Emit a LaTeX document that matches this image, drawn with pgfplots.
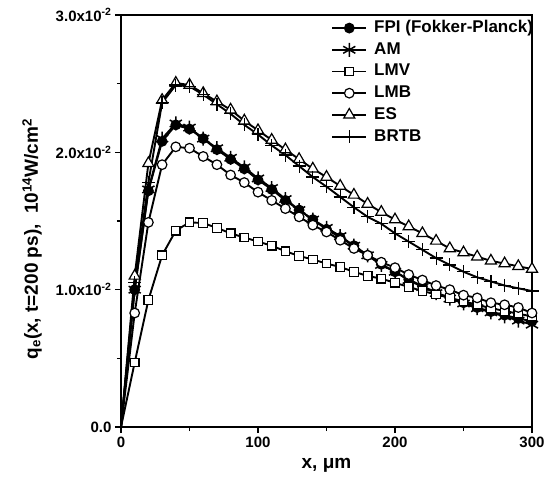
\documentclass[border=0pt]{standalone}
\usepackage{fontspec}
\setmainfont{Liberation Sans}
\usepackage{pgfplots}
\pgfplotsset{compat=1.18}
\usetikzlibrary{calc}

\begin{document}
\begin{tikzpicture}
\begin{axis}[
    scale only axis,
    width=411pt, height=412pt,
    xmin=0, xmax=300, ymin=0, ymax=3,
    xtick={0,100,200,300}, minor xtick={50,150,250},
    xticklabels={0,100,200,300},
    ytick={0,1,2,3}, minor ytick={0.5,1.5,2.5},
    yticklabels={0.0,1.0x10\textsuperscript{-2},2.0x10\textsuperscript{-2},3.0x10\textsuperscript{-2}},
    xtick pos=bottom, ytick pos=left,
    tick align=outside,
    major tick length=6pt, minor tick length=4pt,
    tick style={line width=1.6pt, black},
    axis line style={line width=2pt},
    tick label style={font=\fontsize{15}{16}\selectfont\bfseries},
    xlabel={x, μm},
    ylabel={q\textsubscript{e}(x, t=200 ps),\ \ 10\textsuperscript{14}W/cm\textsuperscript{2}},
    label style={font=\fontsize{19}{21}\selectfont\bfseries},
    xlabel style={at={(axis description cs:0.5,-0.092)}, anchor=center},
    ylabel style={at={(axis description cs:-0.2165,0.456)}, anchor=center},
    every axis plot/.append style={black, line width=1.9pt, mark repeat=1, mark phase=2},
    legend image code/.code={\draw[#1, mark repeat=2, mark phase=2] plot coordinates {(0pt,0pt) (17pt,0pt) (34pt,0pt)};},
    legend cell align=left,
    legend style={at={(rel axis cs:0.504,0.993)}, anchor=north west, draw=none, fill=none,
        font=\fontsize{17}{18}\selectfont\bfseries,
        nodes={inner sep=0pt, text height=12.5pt, text depth=3.5pt},
        row sep=5.7pt, column sep=7pt},
]
% FPI (Fokker-Planck)
\addplot[mark=*, mark size=4.8pt, mark options={fill=black, line width=1.2pt}] coordinates {
(0,0) (10,1.00) (20,1.72) (30,2.08) (40,2.20) (50,2.17) (60,2.10) (70,2.02) (80,1.95) (90,1.88)
(100,1.80) (110,1.73) (120,1.65) (130,1.58) (140,1.51) (150,1.44) (160,1.38) (170,1.32) (180,1.25)
(190,1.185) (200,1.13) (210,1.075) (220,1.025) (230,0.98) (240,0.94) (250,0.905) (260,0.87)
(270,0.84) (280,0.815) (290,0.79) (300,0.77)};
\addlegendentry{FPI (Fokker-Planck)}
% AM
\addplot[mark=asterisk, mark size=7pt, mark options={line width=1.5pt}] coordinates {
(0,0) (10,1.00) (20,1.73) (30,2.10) (40,2.21) (50,2.18) (60,2.10) (70,2.03) (80,1.96) (90,1.89)
(100,1.81) (110,1.74) (120,1.66) (130,1.58) (140,1.51) (150,1.45) (160,1.39) (170,1.32) (180,1.25)
(190,1.18) (200,1.13) (210,1.07) (220,1.02) (230,0.975) (240,0.935) (250,0.90) (260,0.865)
(270,0.835) (280,0.805) (290,0.775) (300,0.745)};
\addlegendentry{AM}
% LMV
\addplot[mark=square*, mark size=4.3pt, mark options={fill=white, line width=1.2pt}] coordinates {
(0,0) (10,0.47) (20,0.925) (30,1.25) (40,1.43) (50,1.49) (60,1.485) (70,1.45) (80,1.41) (90,1.38)
(100,1.35) (110,1.32) (120,1.28) (130,1.245) (140,1.22) (150,1.19) (160,1.165) (170,1.13) (180,1.10)
(190,1.08) (200,1.05) (210,1.02) (220,0.99) (230,0.965) (240,0.94) (250,0.915) (260,0.89)
(270,0.865) (280,0.845) (290,0.825) (300,0.805)};
\addlegendentry{LMV}
% LMB
\addplot[mark=*, mark size=4.8pt, mark options={fill=white, line width=1.2pt}] coordinates {
(0,0) (10,0.83) (20,1.49) (30,1.91) (40,2.04) (50,2.03) (60,1.97) (70,1.91) (80,1.835) (90,1.78)
(100,1.71) (110,1.65) (120,1.59) (130,1.53) (140,1.47) (150,1.42) (160,1.36) (170,1.30) (180,1.25)
(190,1.20) (200,1.16) (210,1.11) (220,1.07) (230,1.03) (240,1.00) (250,0.96) (260,0.94)
(270,0.905) (280,0.89) (290,0.87) (300,0.83)};
\addlegendentry{LMB}
% ES
\addplot[mark=triangle*, mark size=6.4pt, mark options={fill=white, line width=1.2pt}] coordinates {
(0,0) (10,1.10) (20,1.92) (30,2.38) (40,2.505) (50,2.49) (60,2.43) (70,2.37) (80,2.31) (90,2.23)
(100,2.16) (110,2.09) (120,2.02) (130,1.95) (140,1.88) (150,1.82) (160,1.755) (170,1.69) (180,1.624)
(190,1.565) (200,1.51) (210,1.46) (220,1.41) (230,1.355) (240,1.30) (250,1.27) (260,1.24)
(270,1.21) (280,1.19) (290,1.17) (300,1.15)};
\addlegendentry{ES}
% BRTB
\addplot[mark=+, mark size=6.5pt, mark options={line width=1.2pt}] coordinates {
(0,0) (10,1.05) (20,1.78) (30,2.36) (40,2.49) (50,2.48) (60,2.42) (70,2.35) (80,2.28) (90,2.20)
(100,2.13) (110,2.05) (120,1.98) (130,1.90) (140,1.82) (150,1.75) (160,1.675) (170,1.60) (180,1.53)
(190,1.48) (200,1.41) (210,1.35) (220,1.29) (230,1.23) (240,1.18) (250,1.13) (260,1.09)
(270,1.06) (280,1.03) (290,1.01) (300,0.99)};
\addlegendentry{BRTB}
\coordinate (bl) at (rel axis cs:0,0);
\coordinate (tr) at (rel axis cs:1,1);
\end{axis}
\pgfresetboundingbox
\path ($(bl)+(-121pt,-68pt)$) rectangle ($(tr)+(22pt,15pt)$);
\end{tikzpicture}
\end{document}
